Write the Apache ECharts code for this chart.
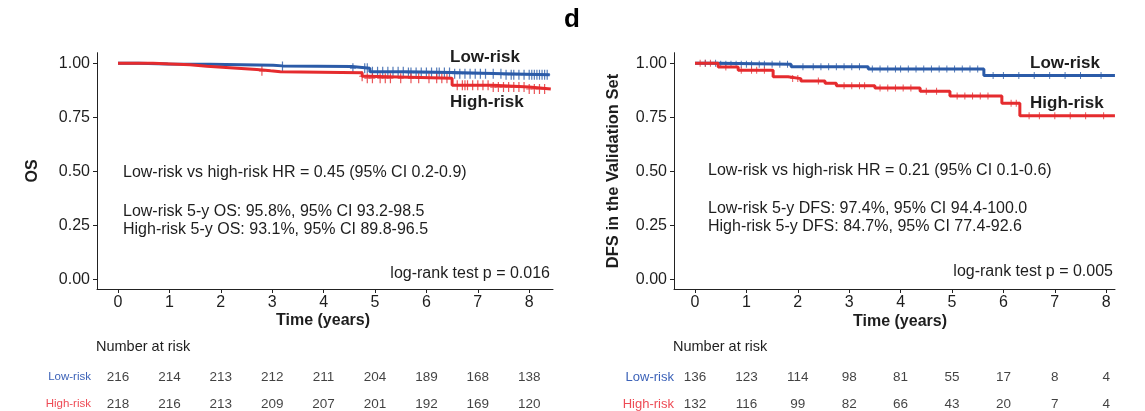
<!DOCTYPE html>
<html><head><meta charset="utf-8">
<script src="https://cdn.jsdelivr.net/npm/echarts@6/dist/echarts.min.js"></script>
<style>html,body{margin:0;padding:0;background:#fff}#c{width:1145px;height:411px}</style>
</head><body><div id="c"></div>
<script>
// ---------- data ----------
const xTicks = [0, 1, 2, 3, 4, 5, 6, 7, 8];
const yTicks = [0, 0.25, 0.5, 0.75, 1];
const groups = ['High-risk', 'Low-risk'];

// Panel 1: OS
const osLowTimes  = [0, 0.4, 0.97, 1.79, 3.02, 3.2, 4.55, 4.9, 5.6, 6.5, 7.5, 8.4];
const osLowSurv   = [1, 0.997, 0.995, 0.991, 0.988, 0.985, 0.977, 0.961, 0.957, 0.952, 0.947, 0.946];
const osHighTimes = [0, 0.68, 1.4, 1.73, 2.25, 2.7, 2.97, 3.16, 4.75, 4.85, 6.5, 7.3, 8.0, 8.42];
const osHighSurv  = [1, 0.993, 0.986, 0.978, 0.971, 0.965, 0.961, 0.956, 0.94, 0.931, 0.898, 0.89, 0.881, 0.881];
const osLowCensor = [3.2, 4.57, 4.8, 4.85, 4.95, 5.05, 5.15, 5.25, 5.35, 5.45, 5.55, 5.65, 5.7, 5.8, 5.9, 6.0, 6.1, 6.2, 6.25, 6.35, 6.45, 6.55, 6.65, 6.75, 6.85, 6.95, 7.05, 7.15, 7.3, 7.45, 7.55, 7.65, 7.7, 7.8, 7.9, 8.0, 8.05, 8.1, 8.15, 8.2, 8.25, 8.3, 8.35];
const osHighCensor = [2.8, 4.75, 4.85, 4.95, 5.1, 5.2, 5.3, 5.5, 5.7, 5.85, 6.05, 6.2, 6.3, 6.4, 6.6, 6.7, 6.75, 6.8, 6.9, 7.0, 7.1, 7.2, 7.3, 7.4, 7.5, 7.6, 7.7, 7.8, 7.9, 8.0, 8.1, 8.2, 8.3];
const osRiskLow  = [216, 214, 213, 212, 211, 204, 189, 168, 138];
const osRiskHigh = [218, 216, 213, 209, 207, 201, 192, 169, 120];

// Panel 2: DFS in the validation set
const dfsLowTimes  = [0, 0.48, 1.87, 3.37, 5.62, 8.17];
const dfsLowSurv   = [1, 0.995, 0.984, 0.974, 0.943, 0.943];
const dfsHighTimes = [0, 0.45, 0.84, 1.52, 1.81, 2.06, 2.53, 2.75, 3.5, 4.38, 4.96, 5.97, 6.32, 8.17];
const dfsHighSurv  = [1, 0.983, 0.968, 0.938, 0.929, 0.918, 0.907, 0.896, 0.886, 0.871, 0.848, 0.815, 0.757, 0.757];
const dfsLowCensor = [0.2, 0.4, 0.5, 0.6, 0.7, 0.8, 0.9, 1.0, 1.1, 1.25, 1.35, 1.5, 1.65, 1.8, 2.1, 2.3, 2.45, 2.6, 2.75, 2.9, 3.05, 3.2, 3.45, 3.6, 3.75, 3.9, 4.0, 4.15, 4.3, 4.45, 4.6, 4.75, 4.9, 5.05, 5.2, 5.35, 5.5, 5.8, 6.0, 6.3, 6.6, 6.9, 7.2, 7.5, 7.9];
const dfsHighCensor = [0.1, 0.2, 0.3, 0.6, 0.9, 1.1, 1.2, 1.35, 1.9, 2.0, 2.4, 2.9, 3.05, 3.2, 3.3, 3.6, 3.75, 3.9, 4.05, 4.2, 4.5, 4.7, 5.1, 5.25, 5.4, 5.55, 5.7, 6.15, 6.25, 6.5, 6.7, 7.0, 7.3, 7.6, 7.95];
const dfsRiskLow  = [136, 123, 114, 98, 81, 55, 17, 8, 4];
const dfsRiskHigh = [132, 116, 99, 82, 66, 43, 20, 7, 4];

// ---------- styling ----------
const BLUE = '#2B5BA8', RED = '#E52B2E';
const TBLUE = '#3C62B8', TRED = '#EE4B55';
const FONT = '"Liberation Sans", Arial, sans-serif';
const TXT = '#1e1e1e';

function stepVal(times, surv, t) {
  let v = surv[0];
  for (let i = 0; i < times.length; i++) if (times[i] <= t) v = surv[i];
  return v;
}
const plus = 'path://M-0.6,-5H0.6V5H-0.6Z M-3,-0.6H3V0.6H-3Z';

function plotAxes(g, xmin, xmax) {
  return {
    x: {
      gridIndex: g, type: 'value', min: xmin, max: xmax,
      axisLine: {show: true, onZero: false, lineStyle: {color: '#222', width: 1}},
      axisTick: {show: true, length: 4, customValues: xTicks, lineStyle: {color: '#222'}},
      axisLabel: {customValues: xTicks, fontSize: 16, color: TXT, margin: 6, fontFamily: FONT},
      splitLine: {show: false}
    },
    y: {
      gridIndex: g, type: 'value', min: -0.045, max: 1.049,
      axisLine: {show: true, onZero: false, lineStyle: {color: '#222', width: 1}},
      axisTick: {show: true, length: 4, customValues: yTicks, lineStyle: {color: '#222'}},
      axisLabel: {customValues: yTicks, formatter: v => v.toFixed(2), fontSize: 16, color: TXT, margin: 7, fontFamily: FONT},
      splitLine: {show: false}
    }
  };
}
function tableAxes(g, xmin, xmax, fs, margin) {
  return {
    x: {gridIndex: g, type: 'value', min: xmin, max: xmax, show: false},
    y: {
      gridIndex: g, type: 'category', data: groups,
      axisLine: {show: false}, axisTick: {show: false}, splitLine: {show: false},
      axisLabel: {
        margin: margin, fontFamily: FONT,
        formatter: v => (v === 'Low-risk' ? '{lo|' : '{hi|') + v + '}',
        rich: {lo: {color: TBLUE, fontSize: fs, fontFamily: FONT}, hi: {color: TRED, fontSize: fs, fontFamily: FONT}}
      }
    }
  };
}
const xmin = (97 - 118) / 51.4;
const a0 = plotAxes(0, xmin, xmin + 456 / 51.4);
const a1 = plotAxes(1, xmin, xmin + 441 / 51.4);
const a2 = tableAxes(2, xmin, xmin + 456 / 51.4, 11.5, 6);
const a3 = tableAxes(3, xmin, xmin + 441 / 51.4, 13, 0);

function km(idx, times, surv, color) {
  return {type: 'line', xAxisIndex: idx, yAxisIndex: idx, step: 'end', showSymbol: false, silent: true,
    data: times.map((t, i) => [t, surv[i]]), lineStyle: {color: color, width: 3}, itemStyle: {color: color}};
}
function cens(idx, cs, times, surv, color, size) {
  return {type: 'scatter', xAxisIndex: idx, yAxisIndex: idx, symbol: plus, symbolSize: size, silent: true,
    data: cs.map(t => [t, stepVal(times, surv, t)]), itemStyle: {color: color}};
}
function risk(idx, vals, grp) {
  return {type: 'scatter', xAxisIndex: idx, yAxisIndex: idx, symbolSize: 1, silent: true,
    itemStyle: {color: 'transparent'},
    label: {show: true, position: 'inside', formatter: p => String(p.data[2]), color: '#111', fontSize: 13.5, fontFamily: FONT},
    data: vals.map((v, i) => [xTicks[i], grp, v])};
}
function txt(x, y, s, o) {
  o = o || {};
  return {type: 'text', x: x, y: y, rotation: o.rot || 0, silent: true,
    style: {text: s, fill: o.color || TXT, fontSize: o.size || 16, fontWeight: o.bold ? 'bold' : 'normal', fontFamily: FONT,
      align: o.align || 'left', verticalAlign: 'middle', textAlign: o.align || 'left', textVerticalAlign: 'middle'}};
}

const option = {
  backgroundColor: '#fff',
  animation: false,
  grid: [
    {left: 97, top: 52.7, width: 456, height: 236.3, outerBoundsMode: 'none', containLabel: false},
    {left: 674, top: 52.7, width: 441, height: 236.3, outerBoundsMode: 'none', containLabel: false},
    {left: 97, top: 363.5, width: 456, height: 54, outerBoundsMode: 'none', containLabel: false},
    {left: 674, top: 363.5, width: 441, height: 54, outerBoundsMode: 'none', containLabel: false}
  ],
  xAxis: [a0.x, a1.x, a2.x, a3.x],
  yAxis: [a0.y, a1.y, a2.y, a3.y],
  series: [
    km(0, osLowTimes, osLowSurv, BLUE),
    cens(0, osLowCensor, osLowTimes, osLowSurv, BLUE, [6, 10]),
    km(0, osHighTimes, osHighSurv, RED),
    cens(0, osHighCensor, osHighTimes, osHighSurv, RED, [6, 10]),
    km(1, dfsLowTimes, dfsLowSurv, BLUE),
    cens(1, dfsLowCensor, dfsLowTimes, dfsLowSurv, BLUE, [5, 7]),
    km(1, dfsHighTimes, dfsHighSurv, RED),
    cens(1, dfsHighCensor, dfsHighTimes, dfsHighSurv, RED, [5, 7]),
    risk(2, osRiskLow, 'Low-risk'),
    risk(2, osRiskHigh, 'High-risk'),
    risk(3, dfsRiskLow, 'Low-risk'),
    risk(3, dfsRiskHigh, 'High-risk')
  ],
  graphic: [
    txt(572, 20, 'd', {bold: true, size: 26, align: 'center', color: '#000'}),
    txt(33, 171, 'OS', {bold: true, size: 16, align: 'center', rot: Math.PI / 2}),
    txt(613, 171, 'DFS in the Validation Set', {bold: true, size: 16.5, align: 'center', rot: Math.PI / 2}),
    txt(323, 321, 'Time (years)', {bold: true, size: 16, align: 'center'}),
    txt(900, 322, 'Time (years)', {bold: true, size: 16, align: 'center'}),
    txt(450, 57, 'Low-risk', {bold: true, size: 17}),
    txt(450, 102, 'High-risk', {bold: true, size: 17}),
    txt(1030, 63, 'Low-risk', {bold: true, size: 17}),
    txt(1030, 103, 'High-risk', {bold: true, size: 17}),
    txt(123, 173, 'Low-risk vs high-risk HR = 0.45 (95% CI 0.2-0.9)'),
    txt(123, 211.5, 'Low-risk 5-y OS: 95.8%, 95% CI 93.2-98.5'),
    txt(123, 229.5, 'High-risk 5-y OS: 93.1%, 95% CI 89.8-96.5'),
    txt(550, 274, 'log-rank test p = 0.016', {align: 'right'}),
    txt(708, 171, 'Low-risk vs high-risk HR = 0.21 (95% CI 0.1-0.6)'),
    txt(708, 209, 'Low-risk 5-y DFS: 97.4%, 95% CI 94.4-100.0'),
    txt(708, 227, 'High-risk 5-y DFS: 84.7%, 95% CI 77.4-92.6'),
    txt(1113, 272, 'log-rank test p = 0.005', {align: 'right'}),
    txt(96, 347, 'Number at risk', {size: 14.5}),
    txt(673, 347, 'Number at risk', {size: 14.5})
  ]
};
const chart = echarts.init(document.getElementById('c'), null, {renderer: 'canvas'});
chart.setOption(option);
</script>
</body></html>
